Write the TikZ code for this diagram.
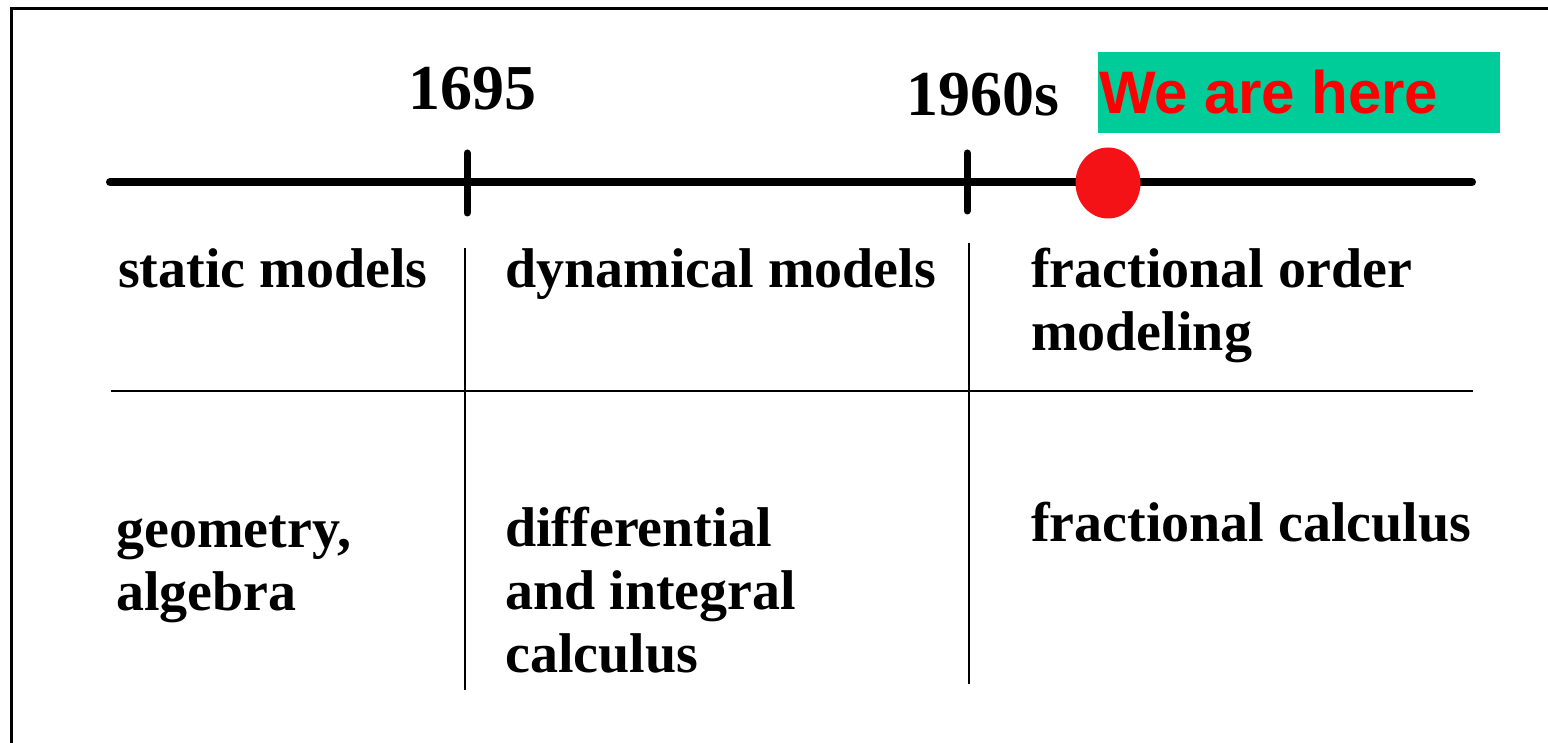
\documentclass[tikz,border=0pt]{standalone}
\usepackage{fontspec}
\usetikzlibrary{shapes.geometric}
\setmainfont{Liberation Serif}
\newfontfamily\arialfam{Liberation Sans}
\definecolor{boxgreen}{RGB}{0,204,153}
\definecolor{dotred}{RGB}{244,18,22}
\definecolor{txtred}{RGB}{255,0,0}
\begin{document}
\begin{tikzpicture}[x=1pt,y=-1pt,
  lbl/.style={anchor=base west,inner sep=0pt,align=left,font=\fontsize{56}{63}\selectfont\bfseries},
  yr/.style={anchor=base west,inner sep=0pt,font=\fontsize{64}{70}\selectfont\bfseries},
  axis/.style={line width=8pt,line cap=round},
  tick/.style={line width=7pt,line cap=round},
  grid/.style={line width=1.5pt}]
\useasboundingbox (0,0) rectangle (1548,743);
% frame (cropped)
\draw[line width=3pt] (11.5,743) -- (11.5,8.5) -- (1548,8.5);
% timeline
\coordinate (a0) at (110,182);
\coordinate (a1) at (1472,182);
\draw[axis] (a0) -- (a1);
\coordinate (t1a) at (467,153); \coordinate (t1b) at (467,213);
\coordinate (t2a) at (967,153); \coordinate (t2b) at (967,211);
\draw[tick] (t1a) -- (t1b);
\draw[tick] (t2a) -- (t2b);
% red dot
\node[ellipse,fill=dotred,minimum width=65pt,minimum height=71pt,inner sep=0pt] (dot) at (1108,183) {};
% we are here box
\node[fill=boxgreen,minimum width=402pt,minimum height=81pt,inner sep=0pt,anchor=north west] (box) at (1098,52) {};
\node[anchor=base west,inner sep=0pt,text=txtred,font=\arialfam\bfseries\fontsize{60}{66}\selectfont] (here) at (1099,114) {We are here};
% years
\node[yr] (y1) at (408,110) {1695};
\node[yr] (y2) at (906,116) {1960s};
% table lines
\coordinate (v1a) at (465,248); \coordinate (v1b) at (465,690);
\coordinate (v2a) at (969,243); \coordinate (v2b) at (969,684);
\coordinate (h1a) at (111,391); \coordinate (h1b) at (1473,391);
\draw[grid] (v1a) -- (v1b);
\draw[grid] (v2a) -- (v2b);
\draw[grid] (h1a) -- (h1b);
% cells (base anchor = baseline of last line)
\node[lbl] (c11) at (118,288) {static models};
\node[lbl] (c12) at (505,288) {dynamical models};
\node[lbl] (c13) at (1031,351) {fractional order\\modeling};
\node[lbl] (c21) at (116,610) {geometry,\\algebra};
\node[lbl] (c22) at (505,672) {differential\\and integral\\calculus};
\node[lbl] (c23) at (1031,541) {fractional calculus};
\end{tikzpicture}
\end{document}
